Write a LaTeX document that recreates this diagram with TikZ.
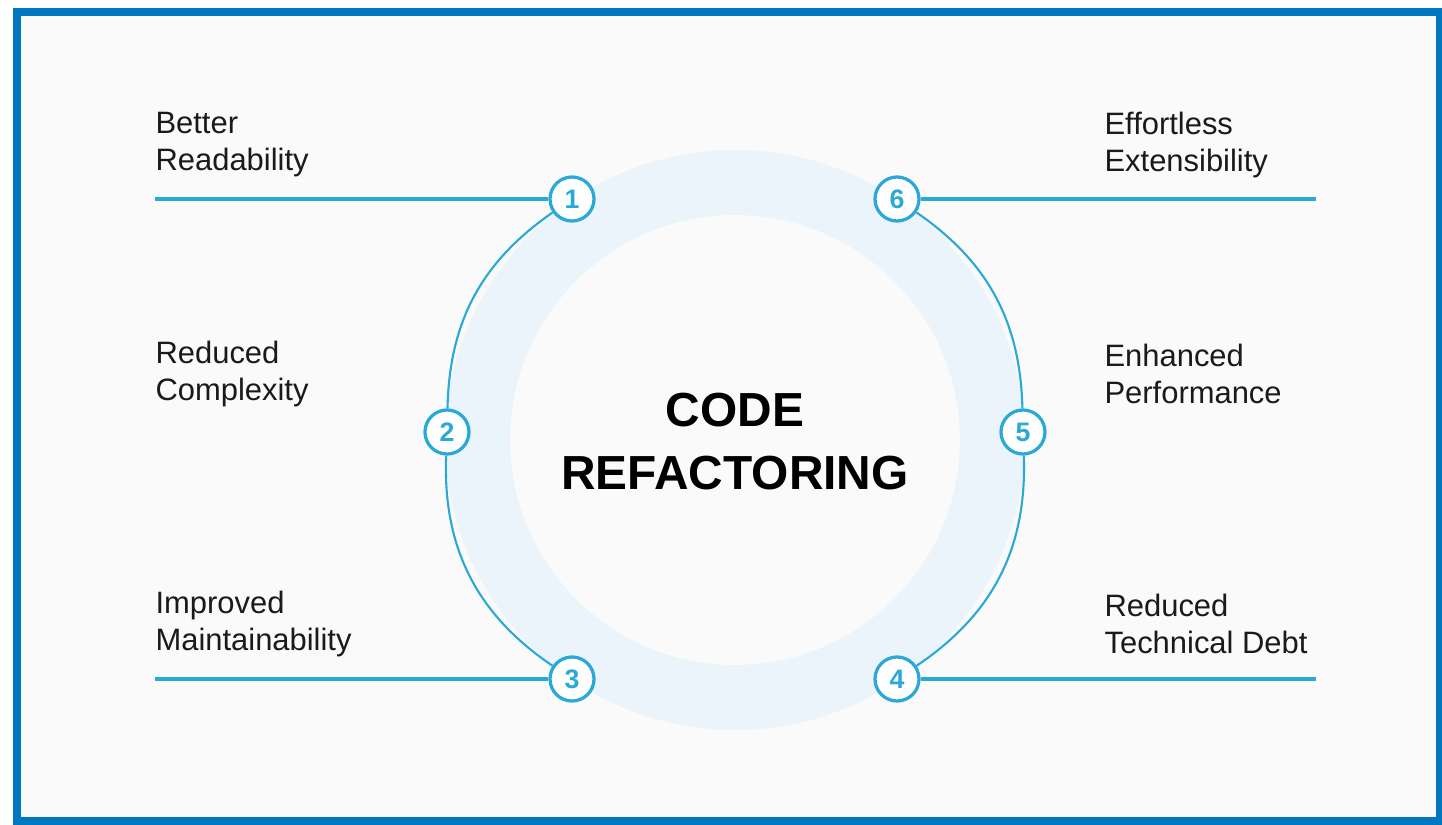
\documentclass[tikz,border=0pt]{standalone}
\usepackage{fontspec}
\setmainfont{Liberation Sans}
\usetikzlibrary{positioning}
\definecolor{frameblue}{HTML}{0077BF}
\definecolor{linecyan}{HTML}{2AA8D8}
\definecolor{ringfill}{HTML}{EAF4FA}
\definecolor{bgpaper}{HTML}{FAFAFA}
\definecolor{inktext}{HTML}{1A1A1A}

\begin{document}
\begin{tikzpicture}[x=0.025cm,y=0.025cm,
                       thick,num node/.style={circle,draw=linecyan,fill=white,line width=2.3pt,minimum size=1.1cm,inner sep=0pt,text=linecyan,font=\fontsize{19}{19}\selectfont\bfseries},
                       label node/.style={anchor=west,align=left,inner sep=0pt,text=inktext,font=\fontsize{22}{26.3}\selectfont}
                      ]
  \useasboundingbox (0,0) rectangle (1442,824);
  \fill[bgpaper] (17,3) rectangle (1440,812);
  \draw[frameblue,line width=0.2cm] (17,3) rectangle (1440,812);
  \fill[ringfill,even odd rule] (735,384) circle[radius=290] (735,384) circle[radius=225];

  \node[align=center,inner sep=0pt,text=black,font=\fontsize{34}{44.8}\selectfont\bfseries] (title) at (735,382) {CODE\\REFACTORING};

  \node[num node] (n1) at (572,625) {1};
  \node[num node] (n2) at (447,392) {2};
  \node[num node] (n3) at (572,145) {3};
  \node[num node] (n4) at (897,145) {4};
  \node[num node] (n5) at (1023,392) {5};
  \node[num node] (n6) at (897,625) {6};

  \coordinate (e1) at (155,625);
  \coordinate (e3) at (155,145);
  \coordinate (e4) at (1316,145);
  \coordinate (e6) at (1316,625);

  \node[label node] (better) at (155,679) {Better\\Readability};
  \node[label node] (complexity) at (155,450) {Reduced\\Complexity};
  \node[label node] (maintain) at (155,200) {Improved\\Maintainability};
  \node[label node] (extend) at (1104,679) {Effortless\\Extensibility};
  \node[label node] (perform) at (1104,450) {Enhanced\\Performance};
  \node[label node] (debt) at (1104,200) {Reduced\\Technical Debt};

  \path[draw=linecyan,line width=1.5pt]%
      (n1) edge [bend right=27] (n2)
      (n2) edge [bend right=29] (n3)
      (n6) edge [bend left=27] (n5)
      (n5) edge [bend left=29] (n4);
  \path[draw=linecyan,line width=2.2pt]%
      (e1) edge (n1)
      (e3) edge (n3)
      (n4) edge (e4)
      (n6) edge (e6);
\end{tikzpicture}
\end{document}
